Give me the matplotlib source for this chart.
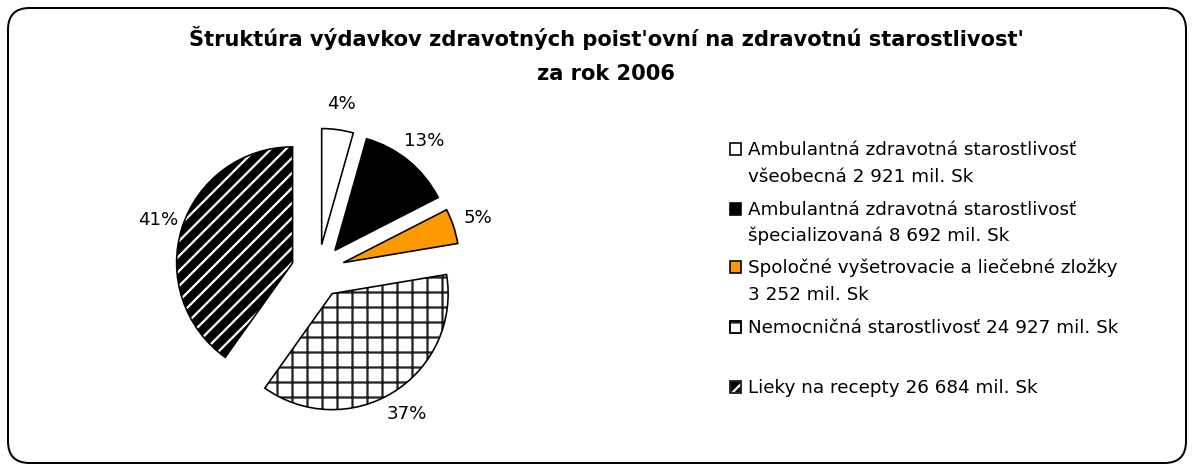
import matplotlib
matplotlib.use("Agg")
import matplotlib.pyplot as plt
from matplotlib.patches import Wedge, Rectangle, FancyBboxPatch

# ---- data ----
categories = [
    "Ambulantná zdravotná starostlivosť\nvšeobecná",
    "Ambulantná zdravotná starostlivosť\nšpecializovaná",
    "Spoločné vyšetrovacie a liečebné zložky\n",
    "Nemocničná starostlivosť",
    "Lieky na recepty",
]
values = [2921, 8692, 3252, 24927, 26684]          # mil. Sk
pct_labels = ["4%", "13%", "5%", "37%", "41%"]
title_lines = ["Štruktúra výdavkov zdravotných poist'ovní na zdravotnú starostlivost'",
               "za rok 2006"]

# ---- styling ----
W, H, DPI = 1192, 465, 90
plt.rcParams['hatch.linewidth'] = 1.8
plt.rcParams['font.family'] = ['DejaVu Sans']

fills = ["white", "black", "#FF9900", "white", "black"]
hatches = [None, None, None, "+", "//"]
hatch_cols = [None, None, None, "#222222", "white"]

fig = plt.figure(figsize=(W / DPI, H / DPI), dpi=DPI)
fig.patch.set_facecolor("white")

def fx(px):
    return px / W

def fy(py):
    return 1 - py / H

# rounded border
border = FancyBboxPatch((8 / DPI, 2 / DPI), (1186 - 8) / DPI, (463 - 8) / DPI,
                        boxstyle="round,pad=0,rounding_size=0.24",
                        transform=fig.dpi_scale_trans, facecolor="none",
                        edgecolor="black", linewidth=1.6)
fig.add_artist(border)

# title
fig.text(fx(606), fy(46), title_lines[0], ha="center", va="baseline",
         fontsize=16.8, fontweight="bold")
fig.text(fx(606), fy(80), title_lines[1], ha="center", va="baseline",
         fontsize=16.8, fontweight="bold")

# pie
cx, cy, R = 318, 271, 116
half = 200
ax = fig.add_axes([fx(cx - half), fy(cy + half), 2 * half / W, 2 * half / H])
wedges, texts = ax.pie(values, explode=[0.23] * len(values), startangle=90,
                       counterclock=False, colors=fills, labels=pct_labels,
                       labeldistance=1.22,
                       wedgeprops=dict(edgecolor="black", linewidth=1.3),
                       textprops=dict(fontsize=14.5))
ax.set_xlim(-half / R, half / R)
ax.set_ylim(-half / R, half / R)
ax.set_aspect("auto")
for t in texts:
    t.set_ha("center")
    t.set_va("center")

for w, h, hc in zip(wedges, hatches, hatch_cols):
    if h:
        w.set_hatch(h)
        w.set_edgecolor(hc)
        w.set_linewidth(0)
        ax.add_patch(Wedge(w.center, w.r, w.theta1, w.theta2, fill=False,
                           edgecolor="black", linewidth=1.3))

# legend
line_base = [[155, 182], [215, 241], [273, 300], [333], [393]]
for i, (cat, v) in enumerate(zip(categories, values)):
    lines = cat.split("\n")
    vs = f"{v:,}".replace(",", " ") + " mil. Sk"
    if lines[-1] == "":
        lines[-1] = vs
    else:
        lines[-1] = lines[-1] + " " + vs
    for ln, yb in zip(lines, line_base[i]):
        fig.text(fx(748), fy(yb), ln, ha="left", va="baseline", fontsize=14.7)
    yb = line_base[i][0]
    rect = Rectangle((fx(730), fy(yb)), 11 / W, 12 / H, transform=fig.transFigure,
                     facecolor=fills[i], edgecolor="black", linewidth=1.3,
                     hatch=hatches[i])
    if hatches[i]:
        rect.set_edgecolor(hatch_cols[i])
        fig.add_artist(rect)
        fig.add_artist(Rectangle((fx(730), fy(yb)), 11 / W, 12 / H,
                                 transform=fig.transFigure, fill=False,
                                 edgecolor="black", linewidth=1.3))
    else:
        fig.add_artist(rect)

fig.savefig("out.png", dpi=DPI)
